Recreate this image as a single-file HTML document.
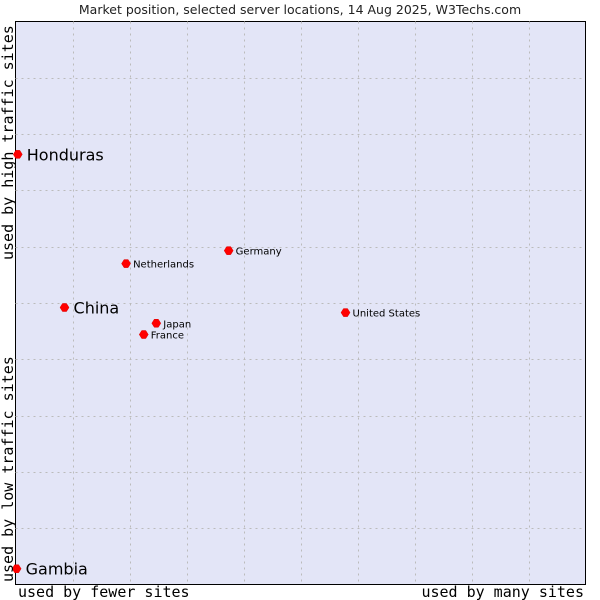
<!DOCTYPE html>
<html><head><meta charset="utf-8"><style>
body{margin:0;background:#fff;width:600px;height:600px;overflow:hidden}
svg{display:block}
</style></head><body>
<svg id="chart" width="600" height="600" xmlns="http://www.w3.org/2000/svg">
<text x="300" y="14" text-anchor="middle" font-family="DejaVu Sans, sans-serif" font-size="12.5" fill="#222">Market position, selected server locations, 14 Aug 2025, W3Techs.com</text>
<rect x="15.5" y="21.5" width="570" height="563" fill="#e3e5f7" stroke="#000" stroke-width="1"/>
<g id="grid"></g>
<g id="points"></g>
<text x="18" y="597" font-family="DejaVu Sans Mono, Liberation Mono, monospace" font-size="15" fill="#000">used by fewer sites</text>
<text x="584" y="597" text-anchor="end" font-family="DejaVu Sans Mono, Liberation Mono, monospace" font-size="15" fill="#000">used by many sites</text>
<text transform="translate(13,582) rotate(-90)" font-family="DejaVu Sans Mono, Liberation Mono, monospace" font-size="15" fill="#000">used by low traffic sites</text>
<text transform="translate(13,260) rotate(-90)" font-family="DejaVu Sans Mono, Liberation Mono, monospace" font-size="15" fill="#000">used by high traffic sites</text>
</svg>
<script>
const names = ["Honduras","China","Netherlands","Germany","Japan","France","United States","Gambia"];
const xValues = [0.4,8.6,19.4,37.4,24.7,22.5,57.9,0.2];
const yValues = [76.4,49.2,57.0,59.3,46.4,44.4,48.3,2.8];
const bigLabel = [true,true,false,false,false,false,false,true];
const L=15.5,R=585.5,T=21.5,B=584.5;
const xs=v=>L+v/100*(R-L), ys=v=>B-v/100*(B-T);
const NS="http://www.w3.org/2000/svg";
const grid=document.getElementById('grid');
for(let i=1;i<10;i++){
  const vx=Math.round(L+i*(R-L)/10)+0.5, hy=Math.round(T+i*(B-T)/10)+0.5;
  const a=document.createElementNS(NS,'line');
  a.setAttribute('x1',vx);a.setAttribute('x2',vx);a.setAttribute('y1',T);a.setAttribute('y2',B);
  a.setAttribute('stroke','#bbb');a.setAttribute('stroke-dasharray','2,4');
  
  
  grid.appendChild(a);
  const b=document.createElementNS(NS,'line');
  b.setAttribute('y1',hy);b.setAttribute('y2',hy);b.setAttribute('x1',L);b.setAttribute('x2',R);
  b.setAttribute('stroke','#bbb');b.setAttribute('stroke-dasharray','2,4');
  
  
  grid.appendChild(b);
}
const pts=document.getElementById('points');
names.forEach((n,i)=>{
  const cx=xs(xValues[i]), cy=ys(yValues[i]);
  const d=document.createElementNS(NS,'path');
  d.setAttribute('d',`M${cx-4.5},${cy}L${cx-2},${cy-4}L${cx+2},${cy-4}L${cx+4.5},${cy}L${cx+2},${cy+4}L${cx-2},${cy+4}Z`);
  d.setAttribute('fill','#f00');d.setAttribute('stroke','#d00');d.setAttribute('stroke-width','0.5');
  
  
  pts.appendChild(d);
  const t=document.createElementNS(NS,'text');
  t.setAttribute('x',cx+(bigLabel[i]?9:7));
  t.setAttribute('y',cy+(bigLabel[i]?6:4));
  t.setAttribute('font-family','DejaVu Sans, sans-serif');
  t.setAttribute('font-size',bigLabel[i]?'16':'10');
  t.setAttribute('fill','#000');
  t.textContent=n;
  
  
  pts.appendChild(t);
});
</script>
</body></html>
